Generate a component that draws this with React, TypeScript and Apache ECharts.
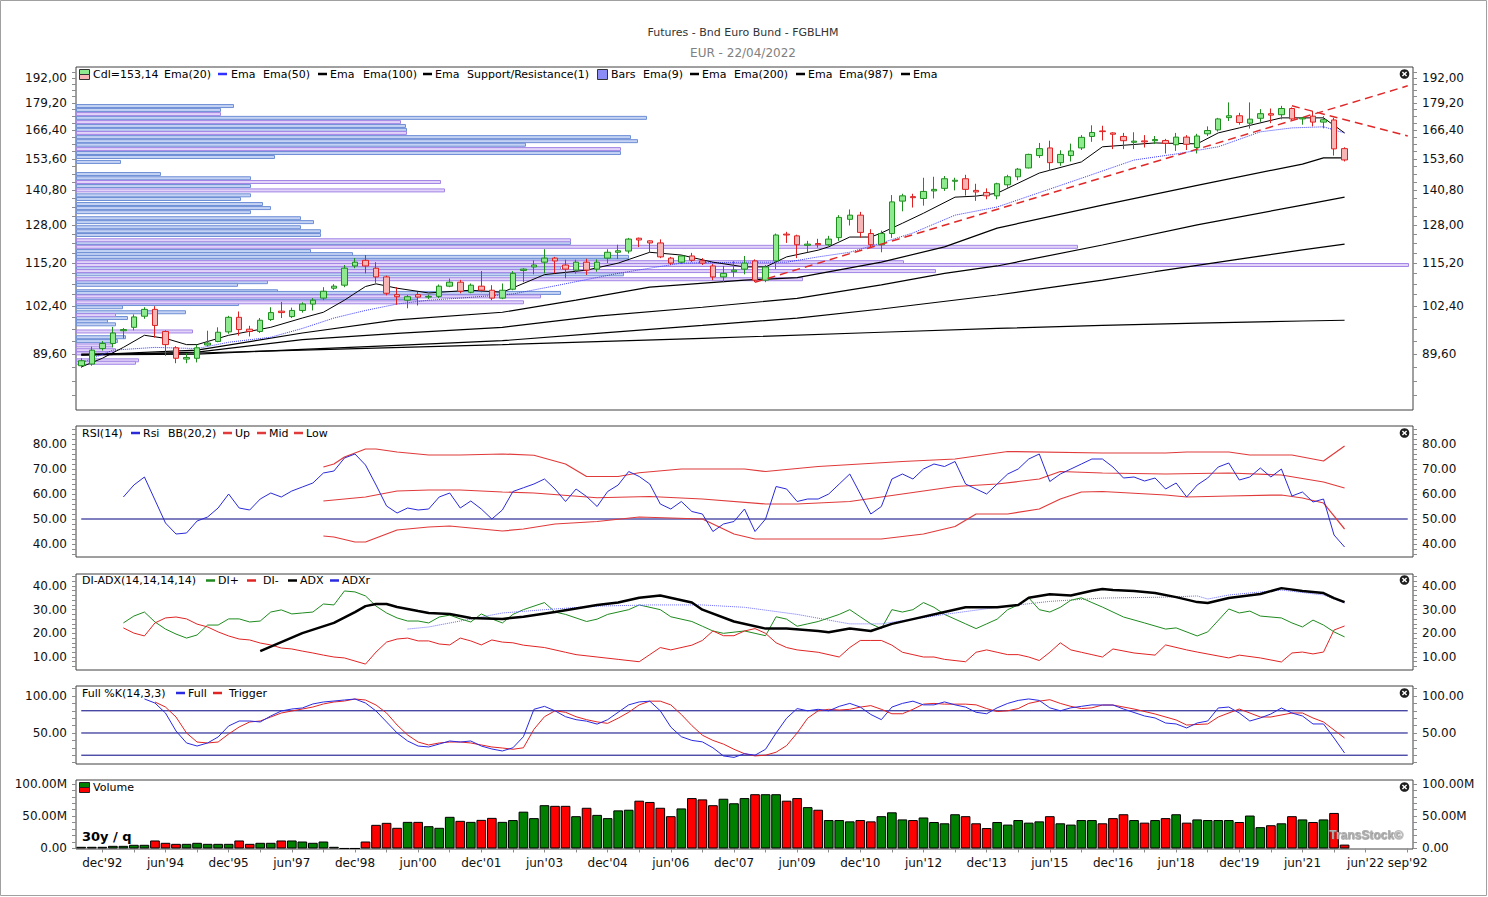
import React, { useEffect, useRef } from 'react';
import * as echarts from 'echarts';

const FONT = '"DejaVu Sans", Verdana, sans-serif';

// Quarterly candles from jun'92: [open, close, low, high]
const candles: number[][] = [
  [86.8, 88.0, 86.3, 88.6], [87.2, 90.6, 86.8, 91.5], [91.0, 92.3, 90.5, 92.9], [92.3, 95.0, 91.3, 96.6],
  [95.6, 95.9, 93.6, 96.3], [96.5, 99.3, 95.7, 100.0], [99.5, 101.4, 98.8, 102.0], [101.4, 97.0, 93.8, 102.3],
  [95.4, 92.0, 89.2, 95.7], [91.2, 88.6, 87.4, 91.6], [88.4, 88.8, 87.4, 89.9], [88.6, 91.2, 87.6, 92.0],
  [91.9, 92.4, 91.6, 95.6], [92.8, 95.2, 92.6, 96.5], [95.3, 99.2, 94.8, 99.6], [99.2, 95.9, 94.3, 100.8],
  [96.0, 95.4, 94.1, 96.9], [95.4, 98.4, 95.0, 99.0], [98.6, 100.5, 98.2, 102.0], [100.9, 100.5, 99.0, 103.5],
  [99.4, 101.1, 99.0, 101.9], [101.1, 102.9, 100.5, 103.4], [102.9, 104.0, 101.1, 104.6], [104.6, 106.6, 104.0, 107.8],
  [107.5, 108.1, 107.0, 108.7], [108.4, 113.6, 107.8, 114.6], [114.3, 115.5, 113.6, 116.8], [116.1, 114.3, 112.0, 117.8],
  [113.6, 110.9, 109.1, 115.5], [110.9, 106.0, 105.4, 111.3], [105.6, 105.0, 102.7, 107.8], [104.0, 105.0, 101.7, 105.5],
  [105.6, 104.9, 102.5, 106.4], [104.9, 105.1, 104.3, 105.6], [105.1, 108.1, 104.6, 108.6], [108.1, 109.3, 107.8, 110.4],
  [109.3, 106.6, 106.0, 110.0], [106.3, 108.4, 106.0, 108.9], [108.1, 106.9, 106.3, 112.7], [106.9, 104.6, 104.0, 108.4],
  [104.6, 106.9, 104.3, 108.9], [107.2, 112.0, 106.9, 112.7], [112.9, 113.3, 109.3, 113.6], [114.0, 114.6, 111.7, 116.1],
  [115.5, 116.8, 112.0, 119.7], [116.8, 115.9, 112.0, 117.2], [114.6, 113.3, 110.5, 116.3], [113.0, 115.5, 111.9, 116.3],
  [115.5, 113.0, 111.5, 116.6], [113.3, 115.5, 112.5, 116.4], [116.8, 118.7, 115.2, 119.7], [118.7, 119.2, 116.5, 121.2],
  [119.1, 123.1, 118.3, 123.5], [123.4, 122.8, 120.4, 123.6], [122.5, 121.8, 118.7, 122.7], [121.8, 117.2, 116.8, 123.0],
  [116.8, 115.2, 114.6, 117.2], [115.5, 117.5, 114.9, 117.8], [117.5, 116.1, 115.5, 118.5], [115.9, 115.2, 114.6, 116.8],
  [114.3, 110.9, 109.9, 114.9], [110.9, 112.0, 109.3, 114.3], [112.5, 113.0, 110.9, 115.8], [113.3, 115.2, 111.7, 117.5],
  [115.9, 109.9, 109.3, 116.4], [109.9, 114.0, 109.3, 114.6], [115.9, 124.5, 113.3, 125.0], [124.8, 124.5, 121.8, 125.6],
  [124.2, 121.2, 116.8, 124.6], [121.0, 121.4, 118.7, 122.5], [121.6, 121.2, 120.2, 123.2], [121.2, 123.1, 120.8, 124.2],
  [123.6, 130.7, 122.5, 131.5], [130.0, 131.5, 127.8, 133.6], [131.5, 125.4, 123.6, 132.7], [125.0, 121.2, 120.4, 126.5],
  [121.2, 125.0, 118.7, 126.0], [125.0, 136.4, 123.5, 139.0], [136.7, 138.7, 132.9, 139.5], [138.4, 138.0, 134.3, 139.5],
  [137.7, 140.4, 135.0, 145.8], [140.6, 141.2, 137.7, 146.2], [141.6, 145.4, 140.6, 146.5], [144.4, 144.8, 140.8, 145.8],
  [145.4, 141.2, 138.8, 147.0], [140.8, 140.2, 136.8, 143.4], [140.0, 138.7, 137.4, 141.6], [138.7, 143.4, 137.4, 143.8],
  [143.0, 146.2, 141.8, 147.0], [146.2, 149.3, 144.8, 149.8], [149.8, 155.5, 149.6, 155.8], [155.0, 158.0, 154.0, 160.5],
  [158.3, 152.0, 148.6, 161.5], [152.0, 155.5, 150.7, 157.3], [155.0, 157.0, 152.5, 160.2], [158.3, 163.0, 157.4, 164.0],
  [163.4, 165.2, 161.0, 168.5], [165.9, 165.6, 161.6, 168.3], [165.0, 164.4, 157.8, 165.3], [163.4, 161.5, 157.8, 165.0],
  [160.8, 161.3, 157.8, 165.3], [161.4, 161.0, 158.5, 164.0], [161.5, 162.0, 160.0, 163.6], [161.6, 160.3, 155.9, 162.3],
  [159.7, 163.1, 157.0, 165.0], [163.1, 159.9, 157.4, 164.0], [158.5, 163.6, 155.9, 164.6], [164.6, 166.1, 163.6, 168.0],
  [166.4, 171.5, 165.6, 172.0], [172.1, 173.0, 170.5, 179.5], [173.0, 169.8, 168.8, 174.4], [169.5, 171.4, 167.0, 179.5],
  [171.8, 174.0, 170.1, 176.2], [174.0, 173.3, 169.5, 176.5], [173.5, 176.5, 171.3, 177.8], [176.5, 171.5, 170.8, 177.0],
  [171.5, 172.0, 168.8, 172.3], [172.8, 170.0, 168.0, 175.4], [170.0, 171.1, 167.1, 172.8], [171.0, 157.9, 155.0, 172.0],
  [158.0, 153.14, 152.5, 158.6],
];

// Volume per quarter (millions)
const volumes = [
  2.6, 2.6, 2.6, 4.1, 4.1, 5.7, 5.7, 12.4, 8.8, 7.2, 7.2, 8.8, 7.2, 7.2, 7.2, 12.4, 7.2, 8.8, 8.8, 12.4,
  12.4, 10.8, 8.8, 10.8, 2.6, 0, 0, 10.8, 36.6, 39.7, 32.0, 41.2, 41.2, 34.5, 32.0, 49.0, 42.8, 41.2, 44.3, 47.4,
  41.2, 44, 57, 47, 67, 66, 66, 50, 63, 52, 47, 59, 60, 74, 72, 63, 50, 62, 78, 76,
  67, 77, 70, 78, 84, 84, 84, 74, 78, 64, 60, 44, 44, 42, 44, 42, 50, 56, 45, 44,
  48, 41, 39, 53, 50, 39, 31.6, 41, 37, 44, 40, 42, 50, 39, 37, 44, 44, 39, 47, 53,
  44, 40, 44, 47, 53, 40, 45, 44, 44, 44, 41, 51, 33, 36, 39, 50, 45, 41, 45, 55, 6,
];

// EMAs [quarter index, price]
const ema9 = [[0, 86.5], [2, 88.6], [4, 91.3], [6, 94.4], [8, 93.6], [10, 92.0], [11, 92.0], [14, 94.4], [18, 96.5], [21, 99.0], [23, 100.6], [25, 104.0], [26, 106.0], [27, 108.0], [28, 108.8], [30, 107.5], [33, 106.1], [34, 106.3], [37, 106.9], [40, 106.3], [44, 111.6], [48, 113.0], [51, 115.2], [54, 118.7], [57, 117.8], [60, 115.5], [63, 114.0], [65, 114.0], [67, 117.2], [70, 119.4], [71, 120.5], [73, 123.8], [75, 123.8], [76, 125.2], [78, 128.6], [80, 132.2], [83, 138.2], [85, 138.6], [87, 139.7], [91, 147.7], [95, 152.3], [97, 158.8], [102, 160.5], [106, 160.1], [108, 165.0], [110, 167.3], [114, 172.0], [118, 172.0], [120, 165.0]];
const ema20 = [[0, 87.5], [3, 90.6], [7, 91.3], [11, 91.0], [14, 92.6], [18, 93.9], [21, 96.2], [24, 99.0], [27, 101.1], [30, 102.9], [33, 104.0], [36, 104.6], [41, 105.8], [45, 108.2], [51, 112.0], [54, 113.6], [57, 115.2], [63, 115.5], [67, 115.5], [70, 117.2], [73, 118.7], [76, 121.8], [79, 125.2], [83, 131.5], [87, 134.5], [95, 145.6], [100, 153.1], [104, 155.7], [108, 158.8], [112, 165.5], [115, 167.3], [118, 167.8], [120, 165.0]];
const ema50 = [[0, 89.4], [11, 90.6], [21, 95.0], [30, 98.5], [40, 100.6], [47, 104.0], [54, 107.8], [63, 109.9], [68, 110.7], [76, 115.5], [82, 120.5], [87, 126.9], [97, 135.2], [106, 142.8], [116, 151.4], [118, 154.0], [120, 154.0]];
const ema100 = [[0, 89.4], [11, 90.1], [21, 93.3], [30, 94.9], [40, 96.5], [49, 99.5], [59, 102.0], [68, 104.5], [76, 108.5], [82, 112.0], [87, 114.3], [97, 121.1], [106, 128.0], [116, 135.2], [120, 138.2]];
const ema200 = [[0, 89.4], [11, 89.6], [21, 90.8], [30, 91.8], [40, 93.0], [49, 94.9], [59, 97.0], [68, 99.0], [76, 101.5], [87, 105.5], [97, 109.9], [102, 112.5], [110, 116.5], [116, 119.5], [120, 121.4]];
const ema987 = [[0, 89.6], [11, 89.9], [21, 90.6], [40, 92.0], [59, 93.6], [76, 95.2], [87, 96.2], [97, 97.0], [106, 97.6], [116, 98.2], [120, 98.4]];
const trendUp = [[64, 109.3], [126, 187.9]];
const trendDown = [[115, 177.8], [126, 163.6]];

// Volume-at-price bars [price, volume units]
const profileBlue = [[177.7, 157], [175.8, 144], [172.0, 570], [168.2, 329], [166.4, 330], [163.1, 554], [161.3, 561], [159.7, 449], [156.1, 544], [154.4, 198], [152.3, 44], [147.3, 84], [145.6, 174], [142.5, 174], [138.9, 174], [137.5, 164], [135.6, 186], [134.1, 194], [132.6, 174], [130.4, 224], [129.0, 237], [127.2, 224], [125.8, 244], [124.5, 244], [121.8, 494], [119.1, 234], [118.1, 276], [117.2, 552], [116.1, 552], [113.6, 484], [111.7, 547], [109.3, 191], [108.5, 161], [106.6, 201], [106.1, 484], [104.6, 341], [102.9, 162], [102.0, 46], [100.6, 109], [99.0, 51], [98.1, 31], [97.3, 39], [93.9, 49], [92.9, 41]];
const profilePurple = [[173.8, 144], [170.0, 324], [165.0, 330], [157.8, 544], [144.1, 364], [140.8, 368], [122.7, 494], [120.5, 1001], [115.5, 827], [114.6, 1332], [112.7, 859], [110.2, 726], [105.1, 464], [103.4, 447], [99.8, 39], [95.4, 116], [91.8, 36], [90.6, 39], [89.8, 36], [88.1, 62], [87.5, 59]];

// RSI(14) and Bollinger(20,2)
const rsi = [[4, 58.8], [5, 63.6], [6, 66.8], [7, 57.6], [8, 48.4], [9, 44.0], [10, 44.4], [11, 49.2], [12, 50.8], [13, 54.4], [14, 60.0], [15, 54.4], [16, 53.6], [17, 58.0], [18, 60.4], [19, 58.8], [20, 61.2], [21, 62.8], [22, 64.4], [23, 68.4], [24, 69.2], [25, 74.4], [26, 76.0], [27, 71.6], [28, 63.6], [29, 55.2], [30, 52.4], [31, 54.4], [32, 53.6], [33, 54.0], [34, 58.8], [35, 60.4], [36, 54.4], [37, 57.2], [38, 54.0], [39, 50.0], [40, 53.6], [41, 61], [42, 62.5], [43, 64], [44, 66], [45, 62], [46, 57], [47, 62], [48, 59], [49, 55], [50, 61], [51, 63.6], [52, 69], [53, 67], [54, 64], [55, 56], [56, 54], [57, 57], [58, 53], [59, 52], [60, 45], [61, 48], [62, 49], [63, 54], [64, 45], [65, 50], [66, 63], [67, 62], [68, 57], [69, 58], [70, 58], [71, 60], [72, 64], [73, 68], [74, 60], [75, 52], [76, 55], [77, 66], [78, 68], [79, 66], [80, 70], [81, 72], [82, 71], [83, 73], [84, 64], [85, 62], [86, 60], [87, 64], [88, 68], [89, 70], [90, 74], [91, 76], [92, 65], [93, 68], [94, 70], [95, 72], [96, 74], [97, 74.0], [98, 70.8], [99, 66.4], [100, 66.8], [101, 65.2], [102, 66.4], [103, 62.0], [104, 64.4], [105, 58.8], [106, 63.6], [107, 66.4], [108, 70.8], [109, 72.4], [110, 65.6], [111, 66.8], [112, 70.4], [113, 66.8], [114, 70.0], [115, 59.2], [116, 60.8], [117, 56.8], [118, 58.0], [119, 43.6], [120, 38.8]];
const bbUp = [[23, 70.8], [24, 72.0], [25, 74.8], [26, 76.4], [27, 78.0], [28, 78.0], [30, 76.8], [33, 75.6], [36, 75.6], [40, 76.0], [43, 75.5], [46, 72], [48, 67], [51, 67], [53, 68.5], [57, 70], [63, 70], [65, 69], [70, 71], [78, 73], [83, 74], [88, 77], [97, 76.4], [103, 76.4], [105, 76.8], [109, 76.8], [111, 75.6], [115, 75.6], [118, 73.2], [120, 79.2]];
const bbMid = [[23, 57.2], [27, 58.8], [30, 61.2], [33, 61.6], [36, 61.6], [40, 60.8], [43, 60.4], [49, 58.5], [54, 59], [59, 58], [65, 56], [68, 56], [73, 57], [78, 60], [83, 63], [87, 64], [91, 66], [93, 69], [97, 68.4], [103, 68.0], [109, 68.4], [114, 67.6], [118, 64.8], [120, 62.4]];
const bbLow = [[23, 43.2], [24, 42.8], [26, 40.8], [27, 40.8], [30, 45.6], [33, 46.8], [35, 47.2], [38, 46.0], [40, 45.2], [42, 46], [45, 48], [49, 49], [53, 50.8], [59, 50], [62, 44], [64, 42], [68, 42], [76, 42], [80, 44], [83, 47], [85, 52], [88, 52], [91, 54], [93, 58], [95, 60.8], [97, 61], [103, 59.6], [105, 58.8], [109, 59.2], [114, 59.6], [116, 58.4], [118, 56.4], [120, 46.0]];

// DI-ADX(14,14,14,14)
const diPlus = [[4, 24.4], [5, 27.3], [6, 29.0], [7, 24.8], [8, 21.8], [9, 19.7], [10, 18.0], [11, 19.3], [12, 23.5], [13, 23.5], [14, 26.1], [15, 26.1], [16, 24.8], [17, 25.2], [18, 29.0], [19, 29.9], [20, 28.2], [21, 28.6], [22, 29.0], [23, 32.4], [24, 32.0], [25, 37.9], [26, 37.5], [27, 35.8], [28, 31.5], [29, 28.6], [30, 26.5], [31, 25.2], [32, 25.2], [33, 24.4], [34, 26.9], [35, 27.7], [36, 26.1], [37, 24.8], [38, 28.2], [39, 26.1], [40, 24.4], [41, 28], [42, 30], [44, 33], [45, 29], [46, 28], [48, 25], [49, 26], [50, 28], [52, 30], [53, 32], [55, 30], [56, 27], [58, 25], [59, 23], [60, 21], [61, 20], [63, 21], [64, 20], [65, 19], [66, 27], [67, 26], [68, 23], [69, 24], [70, 25], [72, 28], [73, 30], [74, 27], [75, 24], [76, 22], [77, 30], [78, 29], [79, 30], [80, 33], [81, 31], [82, 28], [83, 26], [84, 24], [85, 22], [86, 24], [87, 26], [88, 30], [89, 32], [90, 35], [91, 30], [92, 29], [93, 31], [94, 34], [95, 35], [96, 33], [97, 31.1], [99, 26.9], [101, 24.4], [103, 21.8], [104, 22.3], [106, 18.9], [107, 20.6], [109, 30.3], [110, 28.6], [111, 29.4], [112, 27.3], [114, 26.5], [115, 24.4], [116, 22.7], [117, 25.6], [118, 23.5], [119, 20.6], [120, 18.5]];
const diMinus = [[4, 22.3], [5, 20.1], [6, 18.9], [7, 24.4], [8, 26.5], [9, 26.9], [10, 26.1], [11, 23.9], [12, 22.7], [13, 20.6], [14, 18.9], [15, 17.6], [16, 17.2], [17, 15.9], [18, 15.1], [19, 13.8], [20, 13.4], [21, 12.5], [22, 11.7], [23, 10.8], [24, 10.0], [25, 9.6], [26, 8.3], [27, 7.0], [28, 12.1], [29, 16.3], [30, 17.6], [31, 18.0], [32, 16.8], [33, 16.8], [34, 15.5], [35, 15.1], [36, 18.0], [37, 16.8], [38, 15.1], [39, 17.2], [40, 16.3], [41, 16], [42, 15], [44, 14], [46, 12], [47, 11], [49, 10], [51, 9], [53, 8], [54, 11], [55, 14], [56, 13], [58, 15], [59, 17], [60, 21], [61, 19], [62, 19], [63, 21], [64, 22], [65, 20], [66, 16], [67, 14], [68, 13], [70, 12], [72, 10], [73, 14], [74, 17], [75, 17], [76, 17], [77, 15], [78, 12], [79, 11], [80, 10], [81, 10], [82, 9], [83, 8.5], [84, 8], [85, 12], [86, 13], [87, 12], [88, 11], [89, 11], [90, 10], [91, 8.5], [92, 12], [93, 16], [94, 13], [95, 12], [96, 11], [97, 10.0], [98, 13.4], [100, 11.7], [102, 10.8], [103, 15.1], [105, 13.0], [106, 12.1], [109, 9.6], [110, 10.8], [112, 9.6], [114, 7.9], [115, 11.7], [116, 12.1], [117, 11.3], [118, 12.1], [119, 21.4], [120, 23.1]];
const adx = [[17, 12.5], [19, 16.3], [21, 20.1], [24, 24.4], [26, 29.0], [27, 31.5], [28, 32.4], [29, 32.4], [30, 31.1], [32, 29.4], [33, 28.6], [35, 28.2], [37, 26.5], [40, 26.1], [42, 27], [45, 29], [49, 32], [51, 33], [53, 35], [55, 36], [58, 33], [59, 30], [62, 25], [65, 22], [67, 22], [70, 21], [71, 20.5], [73, 22], [75, 21], [77, 24], [79, 26], [82, 29], [84, 31], [87, 31], [89, 32], [90, 35], [92, 36.5], [94, 36], [96, 38], [97, 38.7], [98, 38.3], [100, 37.9], [102, 37.0], [104, 35.3], [106, 33.2], [107, 32.8], [109, 34.9], [112, 36.6], [114, 39.1], [116, 37.9], [118, 37.0], [119, 34.9], [120, 33.2]];
const adxr = [[31, 21.8], [33, 22.7], [36, 25.2], [40, 28.6], [44, 30], [49, 31.5], [54, 32], [59, 32], [63, 31], [68, 28], [73, 24], [76, 24], [82, 28], [87, 31], [92, 33.5], [97, 34.9], [103, 35.3], [106, 35.8], [107, 34.5], [109, 36.2], [114, 38.3], [118, 36.2], [120, 32.8]];

// Full %K(14,3,3)
const stochFull = [[6, 96.0], [7, 90.5], [8, 77.0], [9, 52.7], [10, 36.5], [11, 32.4], [12, 36.5], [13, 44.6], [14, 59.5], [15, 66.2], [16, 66.2], [17, 64.9], [18, 73.0], [19, 79.7], [20, 82.4], [21, 83.8], [22, 89.2], [23, 91.9], [24, 93.2], [25, 94.6], [26, 95.9], [27, 90.5], [28, 79.7], [29, 64.9], [30, 50.0], [31, 39.2], [32, 32.4], [33, 31.1], [34, 35.1], [35, 39.2], [36, 37.8], [37, 39.2], [38, 32.4], [39, 28.4], [40, 25.7], [41, 30], [42, 45], [43, 82], [44, 86], [45, 80], [46, 72], [47, 68], [48, 66], [49, 62], [50, 68], [51, 78], [52, 88], [53, 92], [54, 93], [55, 80], [56, 58], [57, 45], [58, 40], [59, 38], [60, 30], [61, 19], [62, 17], [63, 22], [64, 20], [65, 28], [66, 50], [67, 70], [68, 83], [69, 80], [70, 82], [71, 80], [72, 86], [73, 90], [74, 85], [75, 75], [76, 68], [77, 85], [78, 90], [79, 93], [80, 88], [81, 88], [82, 92], [83, 88], [84, 85], [85, 78], [86, 76], [87, 84], [88, 90], [89, 94], [90, 96], [91, 94], [92, 84], [93, 80], [94, 84], [95, 86], [96, 88], [97, 87.8], [98, 87.8], [99, 82.4], [101, 73.0], [102, 70.3], [103, 63.5], [104, 62.2], [105, 56.8], [106, 63.5], [107, 66.2], [108, 83.8], [109, 85.1], [110, 77.0], [111, 66.2], [112, 70.3], [113, 75.7], [114, 83.8], [115, 77.0], [116, 73.0], [117, 62.2], [118, 62.2], [119, 43.2], [120, 23.0]];
const stochTrigger = [[7, 91.9], [8, 85.1], [9, 71.6], [10, 50.0], [11, 37.8], [12, 36.5], [13, 37.8], [14, 48.6], [15, 58.1], [16, 64.9], [17, 66.2], [18, 71.6], [19, 77.0], [20, 79.7], [21, 82.4], [22, 85.1], [23, 89.2], [24, 91.9], [25, 93.2], [26, 95.9], [27, 94.6], [28, 87.8], [29, 77.0], [30, 60.8], [31, 47.3], [32, 37.8], [33, 33.8], [34, 36.5], [35, 37.8], [36, 37.8], [37, 36.5], [38, 33.8], [39, 31.1], [40, 29.7], [41, 28], [42, 30], [43, 55], [44, 72], [45, 80], [46, 78], [47, 72], [48, 68], [49, 65], [50, 63], [51, 70], [52, 78], [53, 88], [54, 93], [55, 93], [56, 88], [57, 75], [58, 60], [59, 47], [60, 40], [61, 35], [62, 28], [63, 22], [64, 19], [65, 20], [66, 24], [67, 33], [68, 50], [69, 70], [70, 80], [71, 82], [72, 81], [73, 82], [74, 85], [75, 87], [76, 82], [77, 76], [78, 76], [79, 82], [80, 89], [81, 90], [82, 89], [83, 89], [84, 89], [85, 88], [86, 83], [87, 79], [88, 80], [89, 83], [90, 90], [91, 93], [92, 95], [93, 90], [94, 86], [95, 83], [96, 84], [97, 87.8], [98, 87.8], [100, 82.4], [102, 75.7], [104, 67.6], [105, 60.8], [107, 62.2], [108, 71.6], [110, 82.4], [112, 71.6], [113, 71.6], [115, 77.0], [116, 77.0], [117, 70.3], [118, 64.9], [120, 43.2]];

// Tick labels of the time axis
const xLabelNames = ["dec'92", "jun'94", "dec'95", "jun'97", "dec'98", "jun'00", "dec'01", "jun'03", "dec'04", "jun'06", "dec'07", "jun'09", "dec'10", "jun'12", "dec'13", "jun'15", "dec'16", "jun'18", "dec'19", "jun'21"];
const trailLabels: Record<number, string> = { 122: "jun'22", 126: "sep'92" };
const mainTicks = [89.6, 102.4, 115.2, 128.0, 140.8, 153.6, 166.4, 179.2, 192.0];

const NCAT = 127;
const MONTHS = ['mar', 'jun', 'sep', 'dec'];
const categories = Array.from({ length: NCAT }, (_, i) => {
  const q = 1 + i;
  const yr = 1992 + Math.floor(q / 4);
  return MONTHS[q % 4] + "'" + String(yr % 100).padStart(2, '0');
});

function range(a: number, b: number, s: number) {
  const r: number[] = [];
  for (let v = a; v <= b + 1e-9; v += s) r.push(+v.toFixed(4));
  return r;
}

function yPair(g: number, min: number, max: number, labels: number[], ticks: number[], fmt: (v: number) => string) {
  const base: any = {
    type: 'value', gridIndex: g, min, max,
    splitLine: { show: false },
    axisLine: { show: false },
    axisTick: { show: true, customValues: ticks, length: 4, lineStyle: { color: '#8c8c8c' } },
    axisLabel: { customValues: labels, formatter: fmt, fontSize: 12, fontFamily: FONT, color: '#111', margin: 9 },
  };
  return [{ ...base, position: 'left' }, { ...base, position: 'right' }];
}

function line(name: string, data: number[][], g: number, color: string, width: number, type: any = 'solid', z = 3, tf?: (v: number) => number) {
  return {
    type: 'line', name, xAxisIndex: g, yAxisIndex: g * 2,
    data: data.map(([i, v]) => [i, tf ? tf(v) : v]),
    showSymbol: false, symbol: 'none', silent: true, z, clip: true,
    lineStyle: { color, width, type },
  };
}

function level(v: number, g: number) {
  return line('lvl' + v, [[0, v], [NCAT - 1, v]], g, '#000080', 1, 'solid', 2);
}

function buildOption() {
  const L = Math.log;
  const grids = [
    { top: 67, height: 343 }, { top: 426, height: 131 }, { top: 574, height: 96 },
    { top: 686, height: 78 }, { top: 780, height: 69 },
  ].map((g) => ({ left: 76, width: 1337, ...g, show: true, borderColor: '#404040', borderWidth: 1, backgroundColor: '#fff' }));

  const xAxes: any[] = grids.map((_, g) => ({
    type: 'category', gridIndex: g, data: categories, boundaryGap: true,
    show: g === 4,
    axisLine: { show: false },
    axisTick: {
      show: true, alignWithLabel: true, length: 4, lineStyle: { color: '#8c8c8c' },
      interval: (i: number) => (i <= 122 && (i - 2) % 3 === 0) || i === 126,
    },
    axisLabel: {
      interval: 0, fontSize: 12, fontFamily: FONT, color: '#111', margin: 8,
      formatter: (v: string, i: number) => (i <= 120 && xLabelNames.includes(v) ? v : trailLabels[i] || ''),
    },
    splitLine: { show: false },
  }));
  xAxes.push({ type: 'value', gridIndex: 0, min: 0, max: 1337, show: false });

  const lnMax = L(192) + 11 / 362.4;
  const lnMin = lnMax - 343 / 362.4;
  const f2 = (v: number) => v.toFixed(2);
  const yAxes = [
    ...yPair(0, lnMin, lnMax, mainTicks.map(L), range(80, 195.2, 3.2).map(L), (v) => Math.exp(v).toFixed(2).replace('.', ',')),
    ...yPair(1, 34.8, 87.2, range(40, 80, 10), range(36, 86, 2), f2),
    ...yPair(2, 4.51, 45.07, range(10, 40, 10), range(6, 44, 2), f2),
    ...yPair(3, 8.1, 113.5, [50, 100], range(10, 110, 10), f2),
    ...yPair(4, -0.8, 106.0, [0, 50, 100], range(0, 100, 10), (v) => (v === 0 ? '0.00' : v.toFixed(2) + 'M')),
  ];

  const profileSeries = (data: number[][], fill: string, stroke: string) => ({
    type: 'custom', xAxisIndex: 5, yAxisIndex: 0, silent: true, z: 1, clip: true,
    data: data.map(([p, v]) => [v, L(p)]),
    renderItem: (params: any, api: any) => {
      const y = api.value(1);
      const p0 = api.coord([0, y]);
      const p1 = api.coord([api.value(0), y]);
      return {
        type: 'rect',
        shape: { x: p0[0] + 0.5, y: p0[1] - 1.5, width: p1[0] - p0[0], height: 3 },
        style: { fill, stroke, lineWidth: 1 },
      };
    },
  });

  const series: any[] = [
    profileSeries(profileBlue, '#c4d2f3', '#6f8fd6'),
    profileSeries(profilePurple, '#e2d4f8', '#a386e6'),
    line('Ema(987)', ema987, 0, '#000', 1.2, 'solid', 2, L),
    line('Ema(200)', ema200, 0, '#000', 1.2, 'solid', 2, L),
    line('Ema(100)', ema100, 0, '#000', 1.2, 'solid', 2, L),
    line('Ema(50)', ema50, 0, '#000', 1.2, 'solid', 2, L),
    line('Ema(20)', ema20, 0, '#3a3aff', 1, 'dotted', 2, L),
    line('Ema(9)', ema9, 0, '#000', 1, 'solid', 2, L),
    {
      type: 'candlestick', xAxisIndex: 0, yAxisIndex: 0, z: 3, barWidth: 6, silent: true,
      data: candles.map((c) => c.map(L)),
      itemStyle: { color: '#8fea8f', color0: '#f7b5b5', borderColor: '#1c8f1c', borderColor0: '#e02020', borderWidth: 1 },
    },
    line('trendUp', trendUp, 0, '#e02828', 1.5, [8, 5], 4, L),
    line('trendDown', trendDown, 0, '#e02828', 1.5, [8, 5], 4, L),

    level(50, 1),
    line('Up', bbUp, 1, '#e03a3a', 1.2),
    line('Mid', bbMid, 1, '#e03a3a', 1.2),
    line('Low', bbLow, 1, '#e03a3a', 1.2),
    line('Rsi', rsi, 1, '#2a2ad8', 1),

    line('DI+', diPlus, 2, '#1f8a1f', 1),
    line('DI-', diMinus, 2, '#e02424', 1),
    line('ADXr', adxr, 2, '#6a6aff', 1, 'dotted'),
    line('ADX', adx, 2, '#000', 2.5, 'solid', 4),

    level(20, 3), level(50, 3), level(80, 3),
    line('Trigger', stochTrigger, 3, '#e02424', 1),
    line('Full', stochFull, 3, '#2a2ae0', 1),

    {
      type: 'bar', xAxisIndex: 4, yAxisIndex: 8, silent: true, barCategoryGap: '8%',
      data: volumes.map((v, i) => ({
        value: v,
        itemStyle: { color: candles[i][1] >= candles[i][0] ? '#008000' : '#ff0000', borderColor: '#000', borderWidth: 1 },
      })),
    },
  ];

  const txt = (x: number, y: number, text: string, extra: any = {}) => ({
    type: 'text', x, y, z: 100, silent: true,
    style: { text, font: '11px ' + FONT, fill: '#000', align: 'left', verticalAlign: 'middle', ...extra },
  });
  const icon = (x: number, y: number, color: string) => ({
    type: 'rect', z: 100, silent: true, shape: { x, y: y - 1.25, width: 9, height: 2.5 }, style: { fill: color },
  });
  const closeBtn = (cy: number) => ({
    type: 'group', x: 1404.5, y: cy, z: 100, silent: true,
    children: [
      { type: 'circle', shape: { cx: 0, cy: 0, r: 4.8 }, style: { fill: '#1e1e1e' } },
      { type: 'line', shape: { x1: -2.1, y1: -2.1, x2: 2.1, y2: 2.1 }, style: { stroke: '#fff', lineWidth: 1.4 } },
      { type: 'line', shape: { x1: -2.1, y1: 2.1, x2: 2.1, y2: -2.1 }, style: { stroke: '#fff', lineWidth: 1.4 } },
    ],
  });

  const graphic: any[] = [
    { type: 'rect', z: 0, silent: true, shape: { x: 0.5, y: 0.5, width: 1486, height: 895 }, style: { fill: 'none', stroke: '#a0a0a0', lineWidth: 1 } },
    txt(743, 32, 'Futures - Bnd Euro Bund - FGBLHM', { align: 'center', fill: '#333' }),
    txt(743, 53, 'EUR - 22/04/2022', { align: 'center', fill: '#808080', font: '12px ' + FONT }),
    // main legend
    { type: 'rect', z: 100, silent: true, shape: { x: 79.5, y: 69.5, width: 10, height: 5 }, style: { fill: '#8fea8f', stroke: '#333', lineWidth: 1 } },
    { type: 'rect', z: 100, silent: true, shape: { x: 79.5, y: 74.5, width: 10, height: 5 }, style: { fill: '#f7b5b5', stroke: '#333', lineWidth: 1 } },
    txt(93, 74, 'Cdl=153,14'), txt(164, 74, 'Ema(20)'), icon(218, 74, '#3030ff'), txt(231, 74, 'Ema'),
    txt(263, 74, 'Ema(50)'), icon(318, 74, '#000'), txt(330, 74, 'Ema'),
    txt(363, 74, 'Ema(100)'), icon(423, 74, '#000'), txt(435, 74, 'Ema'),
    txt(467, 74, 'Support/Resistance(1)'),
    { type: 'rect', z: 100, silent: true, shape: { x: 597.5, y: 69.5, width: 10, height: 10 }, style: { fill: '#8c8cf7', stroke: '#333', lineWidth: 1 } },
    txt(611, 74, 'Bars'), txt(643, 74, 'Ema(9)'), icon(690, 74, '#000'), txt(702, 74, 'Ema'),
    txt(734, 74, 'Ema(200)'), icon(796, 74, '#000'), txt(808, 74, 'Ema'),
    txt(839, 74, 'Ema(987)'), icon(901, 74, '#000'), txt(913, 74, 'Ema'),
    // RSI legend
    txt(82, 433, 'RSI(14)'), icon(131, 433, '#2a2ad8'), txt(143, 433, 'Rsi'), txt(168, 433, 'BB(20,2)'),
    icon(223, 433, '#e03a3a'), txt(235, 433, 'Up'), icon(257, 433, '#e03a3a'), txt(269, 433, 'Mid'),
    icon(294, 433, '#e03a3a'), txt(306, 433, 'Low'),
    // DI legend
    txt(82, 580.5, 'DI-ADX(14,14,14,14)'), icon(206, 580.5, '#1f8a1f'), txt(218, 580.5, 'DI+'),
    icon(247, 580.5, '#e02424'), txt(263, 580.5, 'DI-'), icon(288, 580.5, '#000'), txt(300, 580.5, 'ADX'),
    icon(330, 580.5, '#2a2ae0'), txt(342, 580.5, 'ADXr'),
    // Stoch legend
    txt(82, 693, 'Full %K(14,3,3)'), icon(176, 693, '#2a2ae0'), txt(188, 693, 'Full'),
    icon(213, 693, '#e02424'), txt(229, 693, 'Trigger'),
    // Volume legend
    { type: 'rect', z: 100, silent: true, shape: { x: 79.5, y: 782.5, width: 10, height: 5 }, style: { fill: '#008000', stroke: '#222', lineWidth: 1 } },
    { type: 'rect', z: 100, silent: true, shape: { x: 79.5, y: 787.5, width: 10, height: 5 }, style: { fill: '#ff0000', stroke: '#222', lineWidth: 1 } },
    txt(93, 787, 'Volume'),
    txt(82, 836, '30y / q', { font: 'bold 13px ' + FONT }),
    txt(1366, 835, 'TransStock©', { align: 'center', font: 'bold 12px "Liberation Sans", Arial, sans-serif', fill: '#b0b0b0', textShadowColor: '#666', textShadowBlur: 1, textShadowOffsetX: 0.5, textShadowOffsetY: 0.5 }),
    closeBtn(74), closeBtn(433), closeBtn(580), closeBtn(693), closeBtn(787),
  ];

  return {
    animation: false,
    backgroundColor: '#fff',
    grid: grids,
    xAxis: xAxes,
    yAxis: yAxes,
    series,
    graphic,
  };
}

export default function App() {
  const ref = useRef<HTMLDivElement>(null);
  useEffect(() => {
    document.body.style.margin = '0';
    const chart = echarts.init(ref.current as HTMLDivElement, null, { renderer: 'svg' });
    chart.setOption(buildOption() as any);
    return () => chart.dispose();
  }, []);
  return <div ref={ref} style={{ width: 1488, height: 897 }} />;
}
